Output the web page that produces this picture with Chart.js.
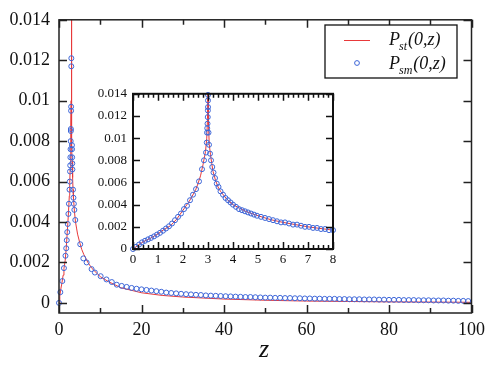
<!DOCTYPE html>
<html>
<head>
<meta charset="utf-8">
<script src="https://cdn.jsdelivr.net/npm/chart.js@4.4.1/dist/chart.umd.min.js"></script>
<style>
  body { margin: 0; background: #fff; }
  #wrap { position: relative; width: 491px; height: 370px; }
  #main { position: absolute; left: 0; top: 0; }
  #inset { position: absolute; left: 88px; top: 80px; }
</style>
</head>
<body>
<div id="wrap">
  <canvas id="main" width="491" height="370"></canvas>
  <canvas id="inset" width="252" height="190"></canvas>
</div>
<script>
// theory curve P_st(0,z)
const stZ = [0, 0.2, 0.4, 0.7, 1.0, 1.2, 1.5, 1.75, 2.0, 2.25, 2.5, 2.6, 2.7, 2.8, 2.9, 2.95, 2.98, 3.0, 3.02, 3.05,
  3.1, 3.15, 3.2, 3.3, 3.4, 3.5, 3.75, 4.0, 4.25, 4.5, 5.0, 5.5, 6.0, 7.0, 8.0, 10, 12, 15, 20, 25,
  30, 40, 50, 60, 70, 80, 90, 100];
const stP = [0, 0.00033, 0.00064, 0.00097, 0.00137, 0.0017, 0.0021, 0.0027, 0.0035, 0.0043, 0.0053, 0.0059, 0.0066, 0.0076, 0.0088, 0.0100, 0.0118, 0.0160, 0.0112, 0.0094,
  0.0085, 0.0077, 0.0070, 0.0062, 0.0056, 0.0052, 0.0045, 0.0040, 0.0037, 0.0034, 0.0030, 0.00265, 0.0024, 0.0020, 0.0017, 0.0013, 0.00105, 0.00075, 0.0005, 0.00037,
  0.00029, 0.00019, 0.00013, 0.00009, 0.00007, 0.00005, 0.00004, 0.00003];

// simulation P_sm(0,z), main panel
const smZ = [0, 0.32, 0.8, 1.2, 1.57, 1.75, 1.88, 2.0, 2.12, 2.28, 2.4, 2.55, 2.62, 2.68, 2.72, 2.76, 2.8, 2.83, 2.87, 2.88,
  2.93, 2.94, 2.98, 2.99, 3.14, 3.16, 3.19, 3.22, 3.25, 3.4, 3.5, 3.6, 3.72, 3.95, 5.15, 5.9, 6.7, 7.9, 8.7, 10.1,
  11.5, 12.8, 14.0, 15.2, 16.4, 17.6, 18.8, 20.0, 21.2, 22.4, 23.6, 24.8, 26.0, 27.2, 28.4, 29.6, 30.8, 32.0, 33.2, 34.4,
  35.6, 36.8, 38.0, 39.2, 40.4, 41.6, 42.8, 44.0, 45.2, 46.4, 47.6, 48.8, 50.0, 51.2, 52.4, 53.6, 54.8, 56.0, 57.2, 58.4,
  59.6, 60.8, 62.0, 63.2, 64.4, 65.6, 66.8, 68.0, 69.2, 70.4, 71.6, 72.8, 74.0, 75.2, 76.4, 77.6, 78.8, 80.0, 81.2, 82.4,
  83.6, 84.8, 86.0, 87.2, 88.4, 89.6, 90.8, 92.0, 93.2, 94.4, 95.6, 96.8, 98.0, 99.2];
const smP = [0, 0.00053, 0.00108, 0.00172, 0.00233, 0.0027, 0.0031, 0.0035, 0.0039, 0.0044, 0.0049, 0.0056, 0.006, 0.0065, 0.0068, 0.0072, 0.0076, 0.008, 0.0085, 0.0086,
  0.0095, 0.0097, 0.0117, 0.0121, 0.0078, 0.0076, 0.0072, 0.0069, 0.0066, 0.0056, 0.0052, 0.0049, 0.0046, 0.0041, 0.0029, 0.0022, 0.0020, 0.00167, 0.0015, 0.00132,
  0.00116, 0.00103, 0.0009, 0.00084, 0.00079, 0.00074, 0.0007, 0.00067, 0.00064, 0.00061, 0.00058, 0.00055, 0.00051, 0.00049, 0.00047, 0.00045, 0.00043, 0.00042, 0.00040, 0.00039,
  0.00037, 0.00036, 0.00035, 0.00034, 0.00033, 0.00032, 0.00031, 0.00030, 0.00029, 0.00029, 0.00028, 0.00027, 0.00026, 0.00026, 0.00025, 0.00025, 0.00024, 0.00024, 0.00023, 0.00023,
  0.00022, 0.00022, 0.00021, 0.00021, 0.00020, 0.00020, 0.00020, 0.00019, 0.00019, 0.00018, 0.00018, 0.00018, 0.00017, 0.00017, 0.00017, 0.00016, 0.00016, 0.00015, 0.00015, 0.00015,
  0.00014, 0.00014, 0.00014, 0.00013, 0.00013, 0.00013, 0.00012, 0.00012, 0.00012, 0.00011, 0.00011, 0.00010, 0.00010, 0.00009];

// simulation P_sm(0,z), inset
const inZ = [0, 0.12, 0.24, 0.36, 0.48, 0.6, 0.72, 0.84, 0.96, 1.08, 1.2, 1.32, 1.44, 1.56, 1.68, 1.8, 1.92, 2.04, 2.16, 2.28,
  2.4, 2.52, 2.64, 2.76, 2.84, 2.92, 2.95, 2.96, 2.97, 2.98, 2.99, 2.995, 3.0, 3.0, 3.0, 3.02, 3.04, 3.08, 3.12, 3.17,
  3.22, 3.28, 3.35, 3.42, 3.5, 3.6, 3.7, 3.8, 3.9, 4.0, 4.12, 4.24, 4.36, 4.48, 4.6, 4.72, 4.84, 4.96, 5.12, 5.28,
  5.44, 5.6, 5.76, 5.92, 6.08, 6.24, 6.4, 6.56, 6.72, 6.88, 7.04, 7.2, 7.36, 7.52, 7.68, 7.84, 8.0];
const inP = [0, 0.0002, 0.0004, 0.0006, 0.00074, 0.00087, 0.001, 0.00114, 0.0013, 0.00146, 0.00165, 0.00185, 0.00205, 0.0023, 0.0026, 0.0029, 0.0032, 0.0036, 0.0039, 0.0044,
  0.0049, 0.0054, 0.0061, 0.0072, 0.0080, 0.0087, 0.0096, 0.0105, 0.0109, 0.0113, 0.0119, 0.0125, 0.0128, 0.0134, 0.0139, 0.0105, 0.0094, 0.0086, 0.0080, 0.0074,
  0.0069, 0.0064, 0.0059, 0.0056, 0.0052, 0.0049, 0.0046, 0.0044, 0.0042, 0.0040, 0.0038, 0.0036, 0.0035, 0.0034, 0.0033, 0.0032, 0.0031, 0.0030, 0.0029, 0.0028,
  0.0027, 0.0026, 0.0025, 0.0024, 0.0024, 0.0023, 0.0022, 0.0022, 0.0021, 0.0020, 0.0020, 0.0019, 0.0019, 0.0018, 0.0018, 0.0017, 0.0017];

const mainXTicks = [0, 20, 40, 60, 80, 100];
const mainXMinor = [10, 30, 50, 70, 90];
const mainYTicks = [0, 0.002, 0.004, 0.006, 0.008, 0.01, 0.012, 0.014];
const insetXTicks = [0, 1, 2, 3, 4, 5, 6, 7, 8];
const insetYTicks = [0, 0.002, 0.004, 0.006, 0.008, 0.01, 0.012, 0.014];

const lineColor = "#e8393a";
const dotColor = "#3d66d8";
const serif = "'Liberation Serif'";

function pts(xs, ys) {
  return xs.map((x, i) => ({ x: x, y: ys[i] }));
}

function fmt(v) {
  return v === 0 ? "0" : String(+v.toFixed(3));
}

// frame with inward ticks on all four sides
function framePlugin(o) {
  return {
    id: "frame",
    afterDraw(chart) {
      const ctx = chart.ctx, a = chart.chartArea;
      const xs = chart.scales.x, ys = chart.scales.y;
      ctx.save();
      ctx.strokeStyle = o.color;
      ctx.lineWidth = o.tickWidth;
      ctx.beginPath();
      const xt = (v, len) => {
        const p = Math.round(xs.getPixelForValue(v)) + 0.5;
        ctx.moveTo(p, a.bottom); ctx.lineTo(p, a.bottom - len);
        ctx.moveTo(p, a.top); ctx.lineTo(p, a.top + len);
      };
      o.xMajor.forEach(v => xt(v, o.major));
      o.xMinor.forEach(v => xt(v, o.minor));
      o.yMajor.forEach(v => {
        const p = Math.round(ys.getPixelForValue(v)) + 0.5;
        ctx.moveTo(a.left, p); ctx.lineTo(a.left + o.major, p);
        ctx.moveTo(a.right, p); ctx.lineTo(a.right - o.major, p);
      });
      ctx.stroke();
      ctx.lineWidth = o.frameWidth;
      ctx.strokeRect(a.left, a.top, a.right - a.left, a.bottom - a.top);
      ctx.restore();
    }
  };
}

const legendPlugin = {
  id: "legendBox",
  afterDraw(chart) {
    const ctx = chart.ctx;
    ctx.save();
    ctx.fillStyle = "#fff";
    ctx.fillRect(325, 25, 132, 53);
    ctx.strokeStyle = "#111";
    ctx.lineWidth = 1.3;
    ctx.strokeRect(325, 25, 132, 53);

    ctx.strokeStyle = lineColor;
    ctx.lineWidth = 1;
    ctx.beginPath();
    ctx.moveTo(344, 40.5); ctx.lineTo(370, 40.5);
    ctx.stroke();

    ctx.strokeStyle = dotColor;
    ctx.beginPath();
    ctx.arc(357, 63, 2.4, 0, Math.PI * 2);
    ctx.stroke();

    ctx.fillStyle = "#111";
    ctx.textBaseline = "alphabetic";
    [["st", 45], ["sm", 69]].forEach(([sub, base]) => {
      let x = 389;
      ctx.font = "italic 18px " + serif;
      ctx.fillText("P", x, base);
      x += ctx.measureText("P").width - 1;
      ctx.font = "italic 12px " + serif;
      ctx.fillText(sub, x, base + 5);
      x += ctx.measureText(sub).width + 1;
      ctx.font = "italic 18px " + serif;
      ctx.fillText("(0,z)", x, base);
    });

    ctx.font = "italic 26px " + serif;
    ctx.textAlign = "center";
    ctx.fillText("z", 264, 357);
    ctx.restore();
  }
};

function scatterSet(data, clip) {
  return {
    data: data,
    showLine: false,
    pointStyle: "circle",
    pointRadius: 2.5,
    pointBorderWidth: 1,
    pointBorderColor: dotColor,
    pointBackgroundColor: "rgba(0,0,0,0)",
    clip: clip,
    order: 0
  };
}

function lineSet(data) {
  return {
    data: data,
    showLine: true,
    borderColor: lineColor,
    borderWidth: 1,
    pointRadius: 0,
    tension: 0,
    order: 1
  };
}

function axes(xMin, xMax, xTicks, yMin, yMax, yTicks, size, yWidth, xHeight, yPad, xPad) {
  return {
    x: {
      type: "linear", min: xMin, max: xMax,
      afterBuildTicks: s => { s.ticks = xTicks.map(v => ({ value: v })); },
      afterFit: s => { s.height = xHeight; },
      grid: { display: false, drawTicks: false },
      border: { display: false },
      ticks: { color: "#111", font: { family: serif, size: size }, padding: xPad, maxRotation: 0, callback: v => fmt(v) }
    },
    y: {
      type: "linear", min: yMin, max: yMax,
      afterBuildTicks: s => { s.ticks = yTicks.map(v => ({ value: v })); },
      afterFit: s => { s.width = yWidth; },
      grid: { display: false, drawTicks: false },
      border: { display: false },
      ticks: { color: "#111", font: { family: serif, size: size }, padding: yPad, callback: v => fmt(v) }
    }
  };
}

new Chart(document.getElementById("main"), {
  type: "scatter",
  data: { datasets: [scatterSet(pts(smZ, smP), 4), lineSet(pts(stZ, stP))] },
  options: {
    responsive: false, animation: false, devicePixelRatio: 1,
    layout: { padding: { left: 0, top: 12, right: 19, bottom: 0 } },
    plugins: { legend: { display: false }, tooltip: { enabled: false } },
    scales: axes(0, 100, mainXTicks, -0.0005, 0.014, mainYTicks, 18, 59, 57, 9, 6)
  },
  plugins: [framePlugin({ xMajor: mainXTicks, xMinor: mainXMinor, yMajor: mainYTicks, major: 8, minor: 5,
    color: "#222", tickWidth: 1.5, frameWidth: 1.5 }), legendPlugin]
});

const insetMinor = [];
insetXTicks.slice(0, -1).forEach(v => { [0.2, 0.4, 0.6, 0.8].forEach(d => insetMinor.push(v + d)); });

new Chart(document.getElementById("inset"), {
  type: "scatter",
  data: { datasets: [scatterSet(pts(inZ, inP), 4), lineSet(pts(stZ, stP))] },
  options: {
    responsive: false, animation: false, devicePixelRatio: 1,
    layout: { padding: { left: 0, top: 9, right: 7, bottom: 0 } },
    plugins: { legend: { display: false }, tooltip: { enabled: false } },
    scales: axes(0, 8, insetXTicks, 0, 0.014, insetYTicks, 13, 45, 21, 6, 3)
  },
  plugins: [framePlugin({ xMajor: insetXTicks, xMinor: insetMinor, yMajor: insetYTicks, major: 7, minor: 4,
    color: "#111", tickWidth: 1.5, frameWidth: 2 })]
});
</script>
</body>
</html>
